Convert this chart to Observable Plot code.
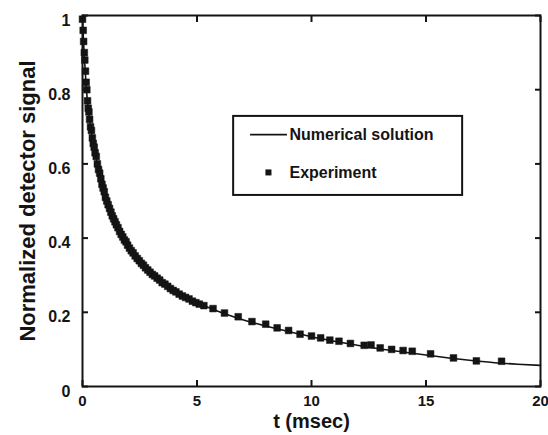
<!DOCTYPE html>
<html><head><meta charset="utf-8">
<script src="https://cdn.jsdelivr.net/npm/d3@7"></script>
<script src="https://cdn.jsdelivr.net/npm/@observablehq/plot@0.6"></script>
<style>html,body{margin:0;padding:0;background:#fff}</style>
</head><body><div id="chart"></div>
<script>
// Experiment (squares): time in msec, normalized signal
const expT = [0.00,0.03,0.05,0.08,0.10,0.13,0.16,0.19,0.22,0.25,0.28,0.31,0.35,0.39,0.43,0.47,0.51,0.55,0.60,0.65,0.70,0.75,0.80,0.85,0.90,0.95,1.00,1.06,1.12,1.18,1.24,1.30,1.36,1.42,1.48,1.55,1.62,1.69,1.76,1.83,1.90,1.97,2.05,2.13,2.21,2.30,2.39,2.48,2.57,2.66,2.75,2.85,2.95,3.05,3.15,3.26,3.37,3.48,3.60,3.72,3.84,3.96,4.08,4.22,4.36,4.50,4.65,4.80,4.95,5.10,5.30,5.70,6.20,6.80,7.40,8.00,8.50,9.00,9.50,10.0,10.4,10.8,11.2,11.7,12.3,12.6,13.0,13.5,14.0,14.4,15.2,16.2,17.2,18.3];
const expY = [0.99,0.96,0.93,0.90,0.88,0.85,0.82,0.80,0.77,0.75,0.74,0.72,0.70,0.69,0.67,0.655,0.645,0.63,0.62,0.60,0.585,0.575,0.56,0.545,0.535,0.525,0.51,0.50,0.49,0.48,0.47,0.46,0.452,0.444,0.436,0.428,0.418,0.41,0.403,0.395,0.39,0.381,0.373,0.366,0.36,0.352,0.345,0.339,0.332,0.327,0.32,0.314,0.308,0.302,0.298,0.292,0.287,0.28,0.276,0.27,0.264,0.259,0.255,0.249,0.244,0.240,0.236,0.230,0.226,0.222,0.218,0.21,0.198,0.188,0.175,0.168,0.158,0.151,0.141,0.136,0.131,0.125,0.122,0.116,0.111,0.112,0.104,0.100,0.097,0.095,0.088,0.077,0.069,0.068];
// Numerical solution (line)
const solT = [0,0.03,0.06,0.1,0.15,0.2,0.26,0.33,0.4,0.5,0.6,0.7,0.8,0.9,1.0,1.2,1.4,1.6,1.8,2.0,2.2,2.5,3.0,3.5,4.0,4.5,5.0,5.5,6,6.5,7,7.5,8,9,10,11,12,13,14,15,16,17,18,19,20];
const solY = [1.0,0.95,0.91,0.87,0.82,0.78,0.745,0.71,0.68,0.645,0.615,0.585,0.56,0.535,0.51,0.475,0.445,0.42,0.398,0.378,0.36,0.338,0.305,0.28,0.258,0.24,0.225,0.213,0.201,0.19,0.18,0.171,0.163,0.148,0.134,0.122,0.111,0.101,0.093,0.085,0.077,0.07,0.064,0.06,0.057];
const xTicks = [0,5,10,15,20];
const yTicks = [0,0.2,0.4,0.6,0.8,1];
const yTickLabels = ["0","0.2","0.4","0.6","0.8","1"];
const xTitle = "t (msec)";
const yTitle = "Normalized detector signal";
const legendLabels = ["Numerical solution","Experiment"];

// legend placement (data units)
const legendBox = {x1: 6.6, x2: 16.6, y1: 0.515, y2: 0.728};
const legendLine = {x1: 7.34, x2: 8.95, y: 0.679};
const legendSquare = {x: 8.12, y: 0.577};
const legendTextX = 8.95;
const legendTextY = [0.679, 0.577];

const ink = "#141414";
const experiment = expT.map((t, i) => ({t, v: expY[i]}));
const solution = solT.map((t, i) => ({t, v: solY[i]}));
const legendText = legendLabels.map((s, i) => ({s, x: legendTextX, y: legendTextY[i]}));

const chart = Plot.plot({
  width: 548, height: 435,
  marginLeft: 82, marginRight: 8, marginTop: 15, marginBottom: 49,
  style: {fontFamily: "'Liberation Sans', Arial, sans-serif", color: ink, background: "#fff"},
  x: {domain: [0, 20]},
  y: {domain: [0, 1]},
  marks: [
    Plot.line(solution, {x: "t", y: "v", stroke: ink, strokeWidth: 1.6, curve: "monotone-x"}),
    Plot.dot(experiment, {x: "t", y: "v", symbol: "square", r: 3.8, fill: ink, stroke: ink, strokeWidth: 0.5}),
    // inward ticks on all sides
    Plot.axisX(xTicks, {anchor: "bottom", tickSize: -6, fill: "none", strokeWidth: 2, label: null}),
    Plot.axisX(xTicks, {anchor: "top", tickSize: -6, fill: "none", strokeWidth: 2, label: null}),
    Plot.axisY(yTicks, {anchor: "left", tickSize: -6, fill: "none", strokeWidth: 2, label: null}),
    Plot.axisY(yTicks, {anchor: "right", tickSize: -6, fill: "none", strokeWidth: 2, label: null}),
    // tick labels
    Plot.axisX(xTicks, {anchor: "bottom", tickSize: 0, tickPadding: 9, fontSize: 15, fontWeight: "bold", label: null}),
    Plot.axisY(yTicks, {anchor: "left", tickSize: 0, tickPadding: 12, dy: 5, fontSize: 16, fontWeight: "bold", label: null,
      tickFormat: (d) => yTickLabels[yTicks.indexOf(d)]}),
    Plot.frame({stroke: ink, strokeWidth: 2}),
    // axis titles
    Plot.text([yTitle], {text: (d) => d, frameAnchor: "left", textAnchor: "middle", lineAnchor: "middle", rotate: -90, dx: -55, fontSize: 22, fontWeight: "bold", fill: ink}),
    Plot.text([xTitle], {text: (d) => d, frameAnchor: "bottom", textAnchor: "middle", lineAnchor: "middle", dy: 35, fontSize: 20, fontWeight: "bold", fill: ink}),
    // legend
    Plot.rect([legendBox], {x1: "x1", x2: "x2", y1: "y1", y2: "y2", fill: "#fff", stroke: ink, strokeWidth: 2}),
    Plot.ruleY([legendLine], {y: "y", x1: "x1", x2: "x2", stroke: ink, strokeWidth: 1.8}),
    Plot.dot([legendSquare], {x: "x", y: "y", symbol: "square", r: 3.4, fill: ink}),
    Plot.text(legendText, {x: "x", y: "y", text: "s", textAnchor: "start", dx: 2, fontSize: 16, fontWeight: "bold", fill: ink})
  ]
});
document.getElementById("chart").appendChild(chart);
</script>
</body></html>
